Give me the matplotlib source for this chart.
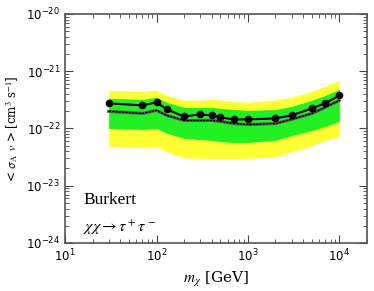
import matplotlib.pyplot as plt
from matplotlib.ticker import FixedLocator, NullFormatter, LogFormatterSciNotation

plt.rcParams['mathtext.fontset'] = 'stix'

mass = [30, 70, 100, 130, 200, 300, 400, 500, 700, 1000, 2000, 3000, 5000, 7000, 10000]
observed = [2.75, 2.53, 2.86, 2.15, 1.62, 1.76, 1.69, 1.56, 1.44, 1.44, 1.50, 1.69, 2.24, 2.75, 3.79]
median = [1.99, 1.83, 2.07, 1.69, 1.38, 1.38, 1.38, 1.33, 1.22, 1.17, 1.22, 1.44, 1.83, 2.34, 3.10]
green_hi = [3.36, 3.23, 3.50, 2.86, 2.34, 2.34, 2.34, 2.24, 2.15, 2.07, 2.15, 2.43, 3.10, 3.79, 4.83]
green_lo = [1.00, 0.96, 1.00, 0.82, 0.67, 0.64, 0.62, 0.59, 0.57, 0.57, 0.62, 0.75, 0.92, 1.08, 1.33]
yellow_hi = [4.64, 4.46, 4.64, 3.79, 3.10, 3.10, 3.23, 3.10, 2.98, 2.86, 3.10, 3.50, 4.46, 5.46, 6.95]
yellow_lo = [0.48, 0.46, 0.48, 0.39, 0.31, 0.30, 0.30, 0.30, 0.30, 0.30, 0.32, 0.39, 0.50, 0.62, 0.72]
unit = 1e-22
x_ticks = [1e1, 1e2, 1e3, 1e4]
y_ticks = [1e-24, 1e-23, 1e-22, 1e-21, 1e-20]

s = lambda v: [x * unit for x in v]

fig = plt.figure(figsize=(3.74, 2.91), dpi=100)
ax = fig.add_axes([0.174, 0.165, 0.807, 0.787])

ax.fill_between(mass, s(yellow_lo), s(yellow_hi), color='#ffff33', lw=0)
ax.fill_between(mass, s(green_lo), s(green_hi), color='#22f022', lw=0)
ax.plot(mass, s(median), color='#555555', lw=2.2)
ax.plot(mass, s(median), color='black', lw=0.8, ls=(0, (2, 1)))
ax.plot(mass, s(observed), color='black', lw=1.5, marker='o', ms=4.5)

ax.set_xscale('log')
ax.set_yscale('log')
ax.set_xlim(10, 2e4)
ax.set_ylim(1e-24, 1e-20)

# ticks only inside the view, minor ones at 2..9 of each decade
x_minor = [m * t for t in x_ticks for m in range(2, 10) if m * t <= 2e4]
y_minor = [m * t for t in y_ticks[:-1] for m in range(2, 10)]
ax.xaxis.set_major_locator(FixedLocator(x_ticks))
ax.yaxis.set_major_locator(FixedLocator(y_ticks))
ax.xaxis.set_major_formatter(LogFormatterSciNotation())
ax.yaxis.set_major_formatter(LogFormatterSciNotation())
ax.xaxis.set_minor_locator(FixedLocator(x_minor))
ax.yaxis.set_minor_locator(FixedLocator(y_minor))
ax.xaxis.set_minor_formatter(NullFormatter())
ax.yaxis.set_minor_formatter(NullFormatter())
ax.tick_params(which='both', direction='in', top=True, right=True, labelsize=8.5, color='#444444')
ax.tick_params(which='major', length=6)
ax.tick_params(which='minor', length=3)
for sp in ax.spines.values():
    sp.set_color('#555555')
    sp.set_linewidth(1.2)

ax.set_xlabel(r'$m_\chi$ [GeV]', fontsize=11, family='serif', labelpad=4)
ax.set_ylabel(r'< $\mathsf{\sigma}_\mathrm{A}$ $v$ > [cm$^3$ s$^{-1}$]', fontsize=8.5, family='serif', labelpad=4)

ax.text(0.06, 0.17, 'Burkert', transform=ax.transAxes, fontsize=12.5, family='Liberation Serif')
ax.text(0.06, 0.05, r'$\chi\chi \rightarrow \tau^+\tau^-$', transform=ax.transAxes, fontsize=11.5)

fig.savefig('out.png', dpi=100)
